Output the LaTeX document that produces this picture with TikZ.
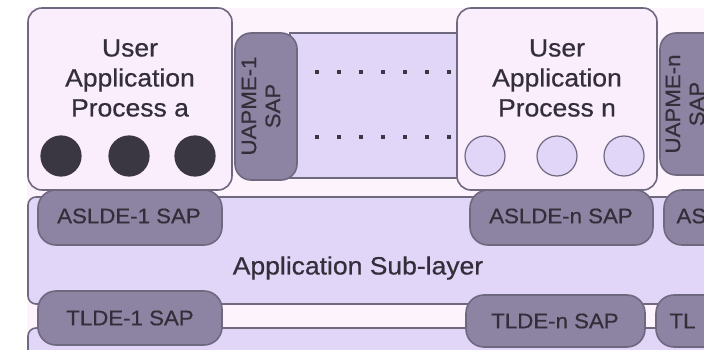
\documentclass[tikz,border=0pt]{standalone}
\usepackage{fontspec}
\setmainfont{Liberation Sans}[FakeStretch=1.06,FakeBold=0.6]
\definecolor{bgpale}{HTML}{FCF3FC}
\definecolor{boxfill}{HTML}{FAEDFC}
\definecolor{lav}{HTML}{E1D5F8}
\definecolor{pill}{HTML}{8D83A2}
\definecolor{edge}{HTML}{6F6980}
\definecolor{dark}{HTML}{3A3642}
\definecolor{txt}{HTML}{332F3A}
\tikzset{
  layer/.style={draw=edge, line width=1.6pt, fill=lav},
  procbox/.style={draw=edge, line width=1.6pt, fill=boxfill, rounded corners=14pt},
  sapbox/.style={draw=edge, line width=1.6pt, fill=pill, rounded corners=18pt},
  saptext/.style={text=txt, font=\fontsize{21}{24}\selectfont, align=center},
  bigtext/.style={text=txt, font=\fontsize{25}{30}\selectfont, align=center},
  filledcirc/.style={circle, draw=dark, fill=dark, line width=1.2pt, minimum size=40pt, inner sep=0pt},
  opencirc/.style={circle, draw=edge, fill=lav, line width=1.2pt, minimum size=40pt, inner sep=0pt},
}
\begin{document}
\begin{tikzpicture}[x=1pt,y=-1pt]
\useasboundingbox (0,0) rectangle (704,350);
\fill[white] (0,0) rectangle (704,350);
\fill[bgpale] (27,8) rectangle (704,350);
% layers
\draw[layer, rounded corners=8pt] (28,197) rectangle (720,304);
\draw[layer, rounded corners=8pt] (28,328) rectangle (720,370);
\draw[layer] (290,33) rectangle (460,178);
% dots
\foreach \y in {72,137} {
  \foreach \x in {317,339,361,383,405,427,449} {
    \fill[dark] (\x-2.3,\y-2.3) rectangle (\x+2.3,\y+2.3);
  }
}
% process boxes
\draw[procbox] (28,8) rectangle (232,190);
\draw[procbox] (457,8) rectangle (657,190);
\node[bigtext] (ua) at (130,78) {User\\Application\\Process a};
\node[bigtext] (un) at (557,78) {User\\Application\\Process n};
\node[filledcirc] (a1) at (61,156) {};
\node[filledcirc] (a2) at (129,156) {};
\node[filledcirc] (a3) at (195,156) {};
\node[opencirc] (n1) at (485,156) {};
\node[opencirc] (n2) at (557,156) {};
\node[opencirc] (n3) at (624,156) {};
% UAPME SAPs
\draw[sapbox, rounded corners=16pt] (235,33) rectangle (297,180);
\node[saptext, rotate=90] (uap1) at (261,106) {UAPME-1\\SAP};
\draw[sapbox, rounded corners=16pt] (660,33) rectangle (722,175);
\node[saptext, rotate=90] (uapn) at (685,104) {UAPME-n\\SAP};
% ASLDE SAPs
\draw[sapbox] (38,190) rectangle (222,245);
\node[saptext] (as1) at (129,216) {ASLDE-1 SAP};
\draw[sapbox] (470,190) rectangle (653,245);
\node[saptext] (asn) at (561,216) {ASLDE-n SAP};
\draw[sapbox] (664,190) rectangle (760,245);
\node[saptext, anchor=west] (asx) at (673,216) {AS};
% TLDE SAPs
\draw[sapbox] (38,291) rectangle (222,345);
\node[saptext] (tl1) at (130,318) {TLDE-1 SAP};
\draw[sapbox] (466,295) rectangle (645,347);
\node[saptext] (tln) at (555,321) {TLDE-n SAP};
\draw[sapbox] (656,295) rectangle (760,347);
\node[saptext, anchor=west] (tlx) at (666,321) {TL};
% sub-layer label
\node[bigtext] (asl) at (358,268) {Application Sub-layer};
\end{tikzpicture}
\end{document}
